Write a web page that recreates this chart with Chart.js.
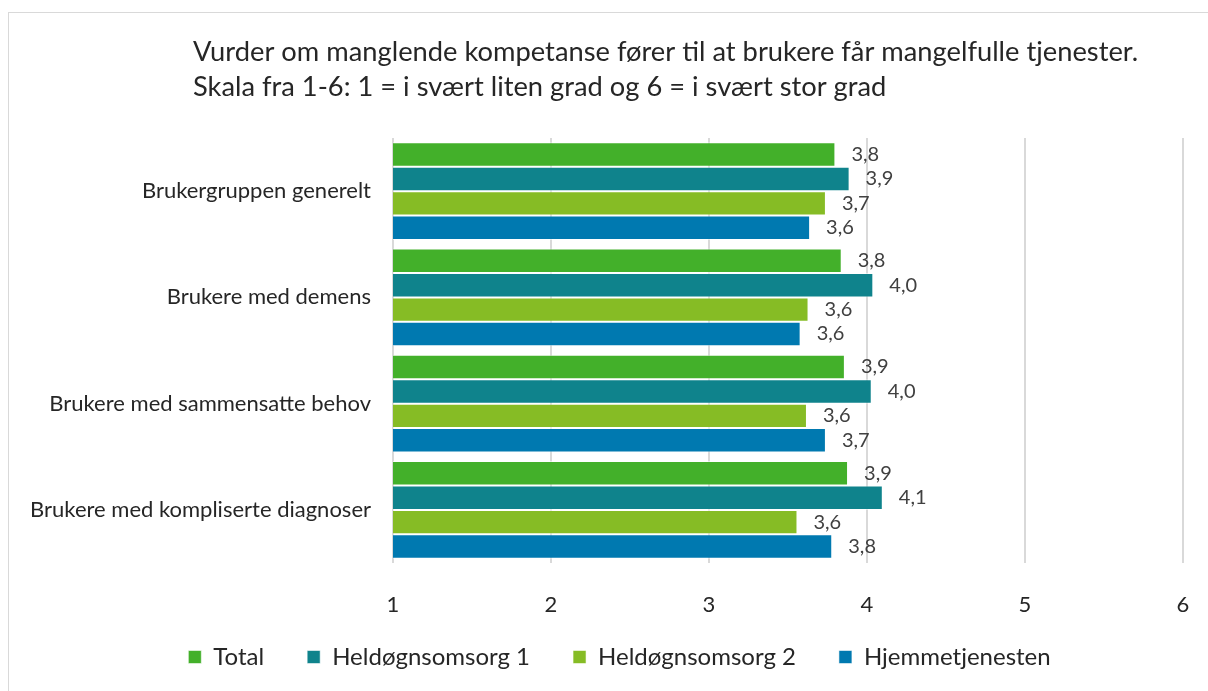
<!DOCTYPE html>
<html>
<head>
<meta charset="utf-8">
<script src="https://cdn.jsdelivr.net/npm/chart.js@4"></script>
<style>
  html, body { margin: 0; padding: 0; background: #fff; }
  #wrap { position: relative; width: 1208px; height: 691px; }
</style>
</head>
<body>
<div id="wrap"><canvas id="chart"></canvas></div>
<script>
const categories = [
  'Brukergruppen generelt',
  'Brukere med demens',
  'Brukere med sammensatte behov',
  'Brukere med kompliserte diagnoser'
];
const total = [3.80, 3.84, 3.86, 3.88];
const heldogn1 = [3.89, 4.04, 4.03, 4.10];
const heldogn2 = [3.74, 3.63, 3.62, 3.56];
const hjemme = [3.64, 3.58, 3.74, 3.78];
const titleLines = [
  'Vurder om manglende kompetanse fører til at brukere får mangelfulle tjenester.',
  'Skala fra 1-6: 1 = i svært liten grad og 6 = i svært stor grad'
];

const FONT = 'Lato, "Open Sans", sans-serif';
const TEXT = '#262626';

// title, frame and value labels drawn straight on the canvas
const extras = {
  id: 'extras',
  afterLayout(chart) {
    // nudge the legend so it sits like the original
    const lg = chart.legend;
    lg.left += 28; lg.right += 28;
    lg.top -= 15; lg.bottom -= 15;
  },
  afterDraw(chart) {
    const ctx = chart.ctx;
    ctx.save();
    ctx.strokeStyle = '#d9d9d9';
    ctx.lineWidth = 1;
    ctx.strokeRect(8.5, 12.5, 1400, 900);

    ctx.fillStyle = TEXT;
    ctx.font = '27.3px ' + FONT;
    ctx.textAlign = 'left';
    ctx.textBaseline = 'middle';
    titleLines.forEach((t, i) => ctx.fillText(t, 193, 52 + i * 35));

    ctx.font = '20px ' + FONT;
    ctx.fillStyle = '#404040';
    chart.data.datasets.forEach((ds, di) => {
      chart.getDatasetMeta(di).data.forEach((bar, i) => {
        const txt = ds.data[i].toFixed(1).replace('.', ',');
        ctx.fillText(txt, bar.x + 16, bar.y);
      });
    });
    ctx.restore();
  }
};

const mk = (label, data, color) => ({
  label, data,
  backgroundColor: color,
  borderColor: 'rgba(255,255,255,0.55)',
  borderWidth: 1,
  barPercentage: 1,
  categoryPercentage: 0.92
});

new Chart(document.getElementById('chart'), {
  type: 'bar',
  data: {
    labels: categories,
    datasets: [
      mk('Total', total, '#43b02a'),
      mk('Heldøgnsomsorg 1', heldogn1, '#0f838c'),
      mk('Heldøgnsomsorg 2', heldogn2, '#86bc25'),
      mk('Hjemmetjenesten', hjemme, '#0079b0')
    ]
  },
  options: {
    indexAxis: 'y',
    responsive: true,
    maintainAspectRatio: false,
    animation: false,
    layout: { padding: { top: 138, right: 25, bottom: -3, left: 0 } },
    scales: {
      x: {
        min: 1, max: 6,
        ticks: { stepSize: 1, color: TEXT, font: { family: FONT, size: 22 }, padding: 29 },
        grid: { color: '#d9d9d9', lineWidth: 2, drawTicks: false },
        border: { display: false },
        afterFit(s) { s.height = 54; s.paddingLeft = 0; s.paddingRight = 0; }
      },
      y: {
        ticks: { color: TEXT, font: { family: FONT, size: 22 }, padding: 22 },
        grid: { display: false, drawTicks: false },
        border: { display: false },
        afterFit(s) { s.width = 393; s.paddingTop = 0; s.paddingBottom = 0; }
      }
    },
    plugins: {
      legend: {
        position: 'bottom',
        labels: {
          color: TEXT,
          font: { family: FONT, size: 24 },
          boxWidth: 13,
          boxHeight: 13,
          padding: 43
        }
      },
      tooltip: { enabled: false }
    }
  },
  plugins: [extras]
});
</script>
</body>
</html>
